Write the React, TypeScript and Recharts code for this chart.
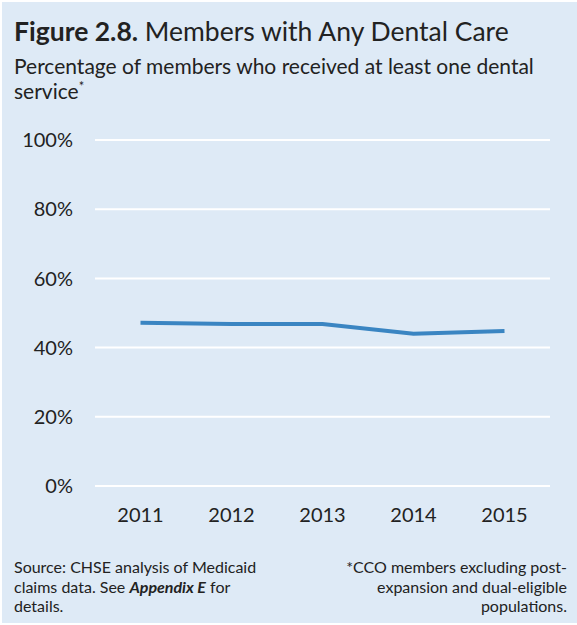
import React from "react";
import { LineChart, Line, XAxis, YAxis, CartesianGrid } from "recharts";

const years = ["2011", "2012", "2013", "2014", "2015"];
const dentalPct = [47.2, 46.8, 46.8, 44.0, 44.8];
const yTicks = [0, 20, 40, 60, 80, 100];

const data = years.map((y, i) => ({ year: y, value: dentalPct[i] }));

const FONT = "Lato, 'Open Sans', sans-serif";
const BG = "#DEEAF6";
const TEXT = "#222222";

export default function App() {
  return (
    <div
      style={{
        position: "fixed",
        left: 0,
        top: 0,
        width: 577,
        height: 625,
        background: "#ffffff",
        fontFamily: FONT,
        color: TEXT,
      }}
    >
      <div
        style={{
          position: "absolute",
          left: 2,
          top: 2,
          width: 575,
          height: 621,
          background: BG,
        }}
      />
      <div
        style={{
          position: "absolute",
          left: 14,
          top: 15,
          fontSize: 26.5,
          lineHeight: "32px",
          whiteSpace: "nowrap",
        }}
      >
        <span style={{ fontWeight: 700 }}>Figure 2.8.</span> Members with Any Dental Care
      </div>
      <div
        style={{
          position: "absolute",
          left: 14,
          top: 53,
          width: 563,
          fontSize: 21,
          lineHeight: "25px",
          whiteSpace: "nowrap",
        }}
      >
        Percentage of members who received at least one dental
        <br />
        service<span style={{ fontSize: 13, position: "relative", top: -8 }}>*</span>
      </div>
      <div style={{ position: "absolute", left: 0, top: 0 }}>
        <LineChart
          width={577}
          height={540}
          data={data}
          margin={{ top: 140, right: 27, left: 0, bottom: 24 }}
        >
          <CartesianGrid vertical={false} stroke="#ffffff" strokeWidth={2} />
          <XAxis
            dataKey="year"
            scale="band"
            axisLine={false}
            tickLine={false}
            tickMargin={16}
            tick={{ fill: TEXT, fontSize: 20, fontFamily: FONT }}
            height={30}
          />
          <YAxis
            domain={[0, 100]}
            ticks={yTicks}
            interval={0}
            width={95}
            axisLine={false}
            tickLine={false}
            tickMargin={16}
            tickFormatter={(v: number) => `${v}%`}
            tick={{ fill: TEXT, fontSize: 20, fontFamily: FONT }}
          />
          <Line
            type="linear"
            dataKey="value"
            stroke="#3A85C2"
            strokeWidth={4}
            dot={false}
            isAnimationActive={false}
          />
        </LineChart>
      </div>
      <div
        style={{
          position: "absolute",
          left: 14,
          top: 557,
          width: 280,
          fontSize: 16,
          lineHeight: "19.5px",
          whiteSpace: "nowrap",
        }}
      >
        Source: CHSE analysis of Medicaid
        <br />
        claims data. See <b><i>Appendix E</i></b> for
        <br />
        details.
      </div>
      <div
        style={{
          position: "absolute",
          right: 10,
          top: 557,
          width: 280,
          textAlign: "right",
          fontSize: 16,
          lineHeight: "19.5px",
          whiteSpace: "nowrap",
        }}
      >
        *CCO members excluding post-
        <br />
        expansion and dual-eligible
        <br />
        populations.
      </div>
    </div>
  );
}
